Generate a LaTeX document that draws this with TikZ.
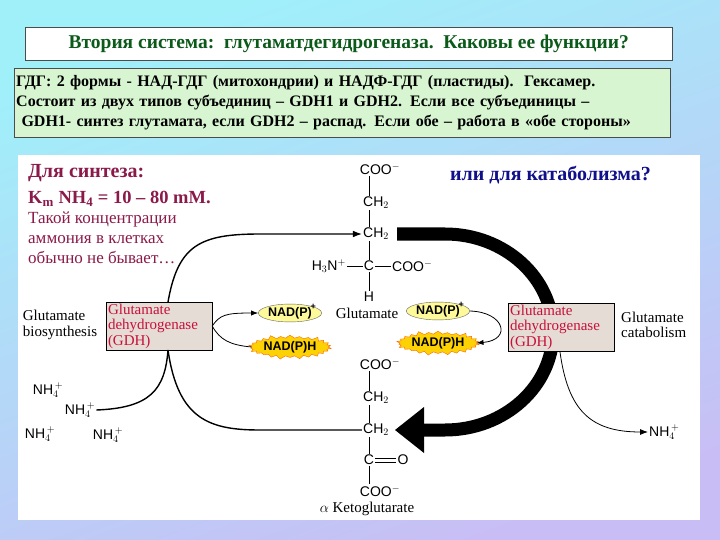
\documentclass[tikz,border=0pt]{standalone}
\usepackage{fontspec}
\setmainfont{Liberation Serif}
\newfontfamily\chem{Liberation Sans}
\usetikzlibrary{arrows.meta,shapes.geometric,shapes.symbols}
\definecolor{maroon}{HTML}{8B1A4A}
\definecolor{navy}{HTML}{10108A}
\definecolor{crim}{HTML}{C8103A}
\definecolor{boxfill}{HTML}{E6DCD6}
\definecolor{greenfill}{HTML}{D6F5D0}
\definecolor{titlegreen}{HTML}{0B5A1A}
\definecolor{bgul}{RGB}{160,240,250}
\definecolor{bglr}{RGB}{200,190,245}
\tikzset{
  ch/.style={font=\chem\fontsize{14}{16}\selectfont, inner sep=1pt},
  gdh/.style={draw=black, fill=boxfill, text=crim, align=left, font=\fontsize{15}{15.5}\selectfont, inner sep=2pt, minimum width=106pt, minimum height=48pt, text width=102pt},
  lbl/.style={font=\fontsize{15}{15.5}\selectfont, align=left, inner sep=1pt},
  flow/.style={line width=1.4pt},
  nadp/.style={ellipse, draw=black!60, fill=yellow!40, font=\chem\fontsize{12.5}{14}\selectfont\bfseries, inner sep=0.5pt},
  nadh/.style={starburst, starburst points=26, starburst point height=4pt, draw=orange!80!red, fill=yellow!70!orange, font=\chem\fontsize{12.5}{14}\selectfont\bfseries, inner sep=0.5pt},
  mtext/.style={text=maroon, anchor=west, inner sep=0pt}
}
\begin{document}
\begin{tikzpicture}[x=1pt,y=-1pt]
\useasboundingbox (0,0) rectangle (720,540);
\shade[left color=bgul, right color=bglr, shading angle=20] (0,0) rectangle (720,540);
\node[draw=black!70, fill=white, minimum width=647pt, minimum height=33pt, anchor=north west, inner sep=0pt, font=\fontsize{19.5}{22}\selectfont\bfseries, text=titlegreen] (title) at (25,27) {Втория система:\ \ глутаматдегидрогеназа.\ \ Каковы ее функции?};
\node[draw=black!70, fill=greenfill, minimum width=656pt, minimum height=69pt, anchor=north west, text width=652pt, align=left, inner sep=2pt, font=\fontsize{16}{20}\selectfont\bfseries] (info) at (14,68) {ГДГ: 2 формы - НАД-ГДГ (митохондрии) и НАДФ-ГДГ (пластиды).\ \ Гексамер.\\Состоит из двух типов субъединиц – GDH1 и GDH2. Если все субъединицы –\\\ GDH1- синтез глутамата, если GDH2 – распад. Если обе – работа в «обе стороны»};
\fill[white] (18,155) rectangle (700,520);
\node[mtext, font=\fontsize{20}{22}\selectfont\bfseries] (syn) at (28,173) {Для синтеза:};
\node[mtext, font=\fontsize{18.5}{22}\selectfont\bfseries] (km) at (28,199) {K\textsubscript{m} NH\textsubscript{4} = 10 – 80 mM.};
\node[mtext, font=\fontsize{17}{19.8}\selectfont, align=left, anchor=north west] (conc) at (28,212) {Такой концентрации\\аммония в клетках\\обычно не бывает…};
\node[anchor=west, text=navy, font=\fontsize{20}{22}\selectfont\bfseries, inner sep=0pt] (cat) at (450,175) {или для катаболизма?};
\node[ch] (g1) at (380,169) {COO$^-$};
\node[ch] (g2) at (376,203) {CH$_2$};
\node[ch] (g3) at (376,234) {CH$_2$};
\node[ch] (gc) at (369,266) {C};
\node[ch, anchor=east] (gn) at (347,266) {H$_3$N$^+$};
\node[ch, anchor=west] (gco) at (391,266) {COO$^-$};
\node[ch] (gh) at (369,297) {H};
\node[lbl] (glu) at (367,313) {Glutamate};
\draw (g1.south -| gc) -- (g2.north -| gc); \draw (g2.south -| gc) -- (g3.north -| gc); \draw (g3.south -| gc) -- (gc); \draw (gc) -- (gh);
\draw (gn) -- (gc); \draw (gc) -- (gco);
\node[ch] (k1) at (380,364) {COO$^-$};
\node[ch] (k2) at (376,398) {CH$_2$};
\node[ch] (k3) at (376,430) {CH$_2$};
\node[ch] (kc) at (369,460) {C};
\node[ch] (ko) at (403,460) {O};
\node[ch] (k5) at (380,491) {COO$^-$};
\node[lbl] (akg) at (367,509) {$\alpha$ Ketoglutarate};
\draw (k1.south -| kc) -- (k2.north -| kc); \draw (k2.south -| kc) -- (k3.north -| kc); \draw (k3.south -| kc) -- (kc); \draw (kc) -- (k5.north -| kc);
\draw ([yshift=-1.8pt]kc.east) -- ([yshift=-1.8pt]ko.west);
\draw ([yshift=1.8pt]kc.east) -- ([yshift=1.8pt]ko.west);
\draw[line width=13pt] (397,234) -- (445,234) arc[start angle=-90, end angle=90, x radius=108, y radius=98] -- (420,430);
\fill (395,430) -- (424,407) -- (424,453) -- cycle;
\node[gdh] (gl) at (159,326) {Glutamate\\dehydrogenase\\(GDH)};
\node[gdh] (gr) at (561,327) {Glutamate\\dehydrogenase\\(GDH)};
\node[lbl] (bios) at (60,325) {Glutamate\\biosynthesis};
\node[lbl, anchor=west] (cata) at (620,325) {Glutamate\\catabolism};
\node[nadp] (ln1) at (290,313) {NAD(P)};
\node[font=\chem\small\bfseries, anchor=south west, inner sep=0pt] at ([xshift=-2pt,yshift=-3pt]ln1.north east) {+};
\node[nadh] (lh1) at (290,347) {NAD(P)H};
\node[nadp] (rn1) at (438,311) {NAD(P)};
\node[font=\chem\small\bfseries, anchor=south west, inner sep=0pt] at ([xshift=-2pt,yshift=-3pt]rn1.north east) {+};
\node[nadh] (rh1) at (438,343) {NAD(P)H};
\coordinate (lt) at (168,302);
\coordinate (lb) at (168,350);
\draw[flow, -{Latex[length=9pt]}] (lt) .. controls (178,245) and (200,234) .. (260,234) -- (g3.west);
\draw[flow] (lb) .. controls (178,420) and (210,430) .. (260,430) -- (k3.west);
\node[ch] (n1) at (48,390) {NH$_4^{\,+}$};
\node[ch] (n2) at (80,410) {NH$_4^{\,+}$};
\node[ch] (n3) at (40,434) {NH$_4^{\,+}$};
\node[ch] (n4) at (108,435) {NH$_4^{\,+}$};
\draw[flow] (n2.east) .. controls (150,408) and (165,390) .. (lb);
\draw[thick, -{Latex[length=7pt]}] (gl.east) .. controls (220,315) and (225,313) .. (ln1.west);
\draw[thick] (lh1.west) .. controls (230,345) and (220,340) .. (gl.east);
\draw[thick, -{Latex[length=7pt]}] (rn1.east) .. controls (505,312) and (512,340) .. (rh1.east);
\node[ch, anchor=west] (n5) at (648,432) {NH$_4^{\,+}$};
\draw[thick, -{Latex[length=8pt]}] (560,352) .. controls (568,410) and (590,432) .. (n5.west);
\end{tikzpicture}
\end{document}
